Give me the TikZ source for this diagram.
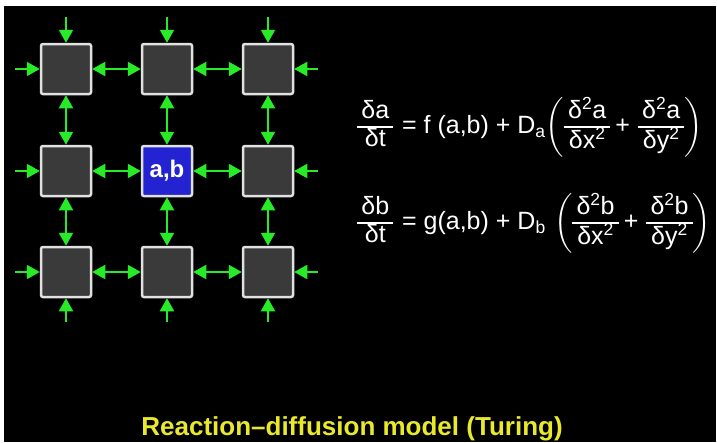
\documentclass[tikz,border=0pt]{standalone}
\usepackage{fix-cm}
\usepackage{amsmath}
\usepackage{fontspec}
\setmainfont{Liberation Sans}
\usetikzlibrary{arrows.meta}
\definecolor{grn}{RGB}{40,235,40}
\definecolor{cellfill}{RGB}{58,58,58}
\definecolor{cellline}{RGB}{225,225,225}
\definecolor{blu}{RGB}{35,35,210}
\definecolor{ttl}{RGB}{232,232,45}
\newcommand{\fr}[2]{\renewcommand{\arraystretch}{0.88}\setlength{\arrayrulewidth}{1.3pt}\begin{tabular}{@{\,}c@{\,}}#1\\\hline #2\end{tabular}}
\newcommand{\sq}{\textsuperscript{2}}
\newcommand{\pl}{\text{\hspace{5pt}+\hspace{8pt}}}
\begin{document}
\begin{tikzpicture}[x=1pt,y=-1pt,
  cell/.style={draw=cellline,fill=cellfill,line width=2.5pt,rounded corners=2pt,minimum size=50pt,inner sep=0pt},
  center/.style={cell,fill=blu,text=white,font=\fontsize{24}{28}\selectfont\bfseries},
  arr/.style={draw=grn,line width=2.2pt,-{Triangle[length=13pt,width=14pt]}},
  darr/.style={draw=grn,line width=2.2pt,{Triangle[length=13pt,width=14pt]}-{Triangle[length=13pt,width=14pt]}},
  eq/.style={text=white,anchor=west,inner sep=0pt,font=\fontsize{25}{30}\selectfont},
  ttlstyle/.style={text=ttl,anchor=base,inner sep=0pt,font=\fontsize{26}{30}\selectfont\bfseries}]
\useasboundingbox (0,0) rectangle (717,442);
\fill[white] (0,0) rectangle (717,442);
\fill[black] (4,6) rectangle (716,442);
% cells
\foreach \c/\x in {1/66,2/167,3/268}{
  \foreach \r/\y in {1/69,2/171,3/272}{
    \ifnum\c=2 \ifnum\r=2 \else \node[cell] (s\r\c) at (\x,\y) {}; \fi
    \else \node[cell] (s\r\c) at (\x,\y) {}; \fi
  }
}
\node[center] (s22) at (167,171) {a,b};
% outer coordinates
\foreach \c/\x in {1/66,2/167,3/268}{
  \coordinate (top\c) at (\x,17);
  \coordinate (bot\c) at (\x,322);
}
\foreach \r/\y in {1/69,2/171,3/272}{
  \coordinate (lft\r) at (15,\y);
  \coordinate (rgt\r) at (318,\y);
}
\foreach \c in {1,2,3}{
  \draw[arr] (top\c) -- (s1\c.north);
  \draw[arr] (bot\c) -- (s3\c.south);
}
\foreach \r in {1,2,3}{
  \draw[arr] (lft\r) -- (s\r1.west);
  \draw[arr] (rgt\r) -- (s\r3.east);
}
\foreach \r in {1,2,3}{
  \draw[darr] (s\r1) -- (s\r2);
  \draw[darr] (s\r2) -- (s\r3);
}
\foreach \c in {1,2,3}{
  \draw[darr] (s1\c) -- (s2\c);
  \draw[darr] (s2\c) -- (s3\c);
}
% equations
\node[eq] (eqa) at (357,127) {\fr{δa}{δt}\hspace{0.35em}= f (a,b) + D$_{\text{a}}\!\left(\fr{δ\sq a}{δx\sq}\pl\fr{δ\sq a}{δy\sq}\right)$};
\node[eq] (eqb) at (357,223) {\fr{δb}{δt}\hspace{0.35em}= g(a,b) + D$_{\text{b}}\,\left(\fr{δ\sq b}{δx\sq}\pl\fr{δ\sq b}{δy\sq}\right)$};
% title
\node[ttlstyle] (title) at (352,435) {Reaction–diffusion model (Turing)};
\end{tikzpicture}
\end{document}
